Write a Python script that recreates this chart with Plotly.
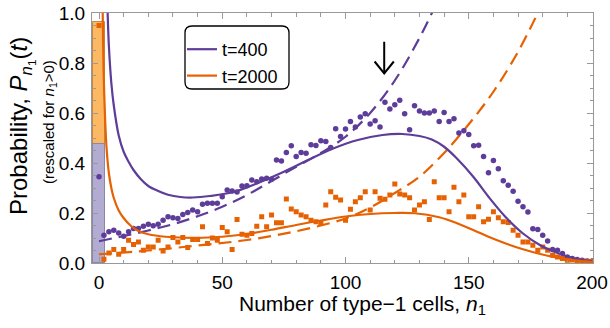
import plotly.graph_objects as go

# ---------------- data ----------------
n_points = list(range(0, 201, 2))

sim_t400 = [0.345, 0.111, 0.125, 0.131, 0.120, 0.107, 0.125, 0.138, 0.138, 0.147,
            0.155, 0.149, 0.155, 0.171, 0.185, 0.181, 0.178, 0.194, 0.202, 0.212,
            0.205, 0.235, 0.239, 0.239, 0.239, 0.265, 0.292, 0.288, 0.284, 0.308,
            0.309, 0.332, 0.325, 0.336, 0.339, 0.335, 0.412, 0.408, 0.442, 0.469,
            0.426, 0.442, 0.439, 0.473, 0.470, 0.489, 0.486, 0.462, 0.537, 0.506,
            0.536, 0.566, 0.544, 0.584, 0.597, 0.556, 0.569, 0.544, 0.643, 0.616,
            0.633, 0.651, 0.597, 0.533, 0.629, 0.608, 0.600, 0.600, 0.608, 0.566,
            0.602, 0.566, 0.577, 0.520, 0.529, 0.514, 0.469, 0.471, 0.426, 0.361,
            0.410, 0.377, 0.329, 0.311, 0.287, 0.247, 0.225, 0.204, 0.137, 0.134,
            0.111, 0.088, 0.054, 0.051, 0.038, 0.024, 0.018, 0.014, 0.011, 0.008,
            0.008]

sim_t2000 = [0.950, 0.015, 0.040, 0.054, 0.035, 0.054, 0.091, 0.074, 0.084, 0.051,
             0.064, 0.064, 0.091, 0.048, 0.064, 0.102, 0.084, 0.102, 0.062, 0.094,
             0.094, 0.145, 0.078, 0.100, 0.091, 0.142, 0.125, 0.054, 0.174, 0.115,
             0.111, 0.118, 0.147, 0.185, 0.145, 0.192, 0.161, 0.161, 0.256, 0.216,
             0.205, 0.192, 0.185, 0.171, 0.165, 0.158, 0.232, 0.285, 0.263, 0.252,
             0.171, 0.215, 0.245, 0.261, 0.285, 0.212, 0.285, 0.259, 0.255, 0.272,
             0.316, 0.276, 0.272, 0.261, 0.212, 0.232, 0.245, 0.174, 0.325, 0.261,
             0.261, 0.205, 0.303, 0.245, 0.272, 0.185, 0.185, 0.225, 0.165, 0.175,
             0.205, 0.181, 0.165, 0.162, 0.131, 0.111, 0.084, 0.084, 0.071, 0.051,
             0.064, 0.051, 0.031, 0.024, 0.018, 0.011, 0.012, 0.010, 0.008, 0.007,
             0.006]

# theory (solid) curves
theory_t400_n = [2.5, 3, 3.5, 4, 5, 6, 8, 10, 12, 14, 17, 20, 24, 28, 33, 38, 45, 55,
                 65, 75, 85, 95, 105, 115, 123, 130, 135, 140, 145, 152, 158, 165,
                 172, 179, 186, 193, 200]
theory_t400_v = [1.6, 1.2, 1.0, 0.87, 0.72, 0.63, 0.51, 0.445, 0.405, 0.372, 0.335,
                 0.308, 0.288, 0.273, 0.264, 0.262, 0.268, 0.285, 0.322, 0.365, 0.413,
                 0.458, 0.492, 0.512, 0.516, 0.508, 0.494, 0.465, 0.420, 0.343, 0.265,
                 0.183, 0.118, 0.071, 0.040, 0.018, 0.008]

theory_t2000_n = [1, 1.5, 2, 3, 4, 5, 6, 8, 10, 13, 16, 20, 27, 35, 42, 50, 60, 70, 80,
                  90, 100, 110, 120, 128, 138, 145, 152, 158, 165, 172, 179, 186, 193,
                  200]
theory_t2000_v = [1.4, 1.0, 0.72, 0.47, 0.36, 0.30, 0.26, 0.21, 0.18, 0.148, 0.128,
                  0.115, 0.105, 0.101, 0.101, 0.105, 0.116, 0.133, 0.152, 0.170, 0.186,
                  0.196, 0.200, 0.199, 0.183, 0.160, 0.131, 0.105, 0.078, 0.055, 0.036,
                  0.021, 0.011, 0.005]

# approximation (dashed) curves
approx_t400_n = [0, 10, 20, 30, 40, 50, 60, 70, 80, 90, 100, 110, 120, 130, 136]
approx_t400_v = [0.087, 0.108, 0.130, 0.155, 0.187, 0.225, 0.272, 0.328, 0.385, 0.440,
                 0.505, 0.600, 0.730, 0.900, 1.02]

approx_t2000_n = [0, 20, 40, 60, 80, 100, 110, 120, 130, 140, 150, 160, 170, 178]
approx_t2000_v = [0.035, 0.050, 0.070, 0.092, 0.127, 0.178, 0.222, 0.280, 0.345, 0.440,
                  0.555, 0.685, 0.845, 1.0]

# probability mass at n1 = 0 (bars)
bar_n = [0]
bar_t400 = [0.475]
bar_t2000 = [0.963]

arrow_n = 115.7
arrow_top, arrow_tip = 0.885, 0.758

PURPLE = "#5e3c99"
ORANGE = "#e66101"
FONT = "Liberation Sans, Arial, sans-serif"

fig = go.Figure()

fig.add_trace(go.Bar(x=bar_n, y=bar_t2000, width=4.5, marker=dict(color="#fdb863",
                     line=dict(color="#c08a45", width=1)), showlegend=False))
fig.add_trace(go.Bar(x=bar_n, y=bar_t400, width=4.5, marker=dict(color="#b2abd2",
                     line=dict(color="#8a86a6", width=1)), showlegend=False))

fig.add_trace(go.Scatter(x=approx_t400_n, y=approx_t400_v, mode="lines", line_shape="spline",
                         line=dict(color=PURPLE, width=2.2, dash="13px,7px"), showlegend=False))
fig.add_trace(go.Scatter(x=approx_t2000_n, y=approx_t2000_v, mode="lines", line_shape="spline",
                         line=dict(color=ORANGE, width=2.2, dash="13px,7px"), showlegend=False))

fig.add_trace(go.Scatter(x=n_points, y=sim_t400, mode="markers",
                         marker=dict(color=PURPLE, size=5.5, symbol="circle"), showlegend=False))
fig.add_trace(go.Scatter(x=n_points, y=sim_t2000, mode="markers",
                         marker=dict(color=ORANGE, size=5, symbol="square"), showlegend=False))

fig.add_trace(go.Scatter(x=theory_t400_n, y=theory_t400_v, mode="lines", line_shape="spline",
                         line=dict(color=PURPLE, width=2.2), name="t=400"))
fig.add_trace(go.Scatter(x=theory_t2000_n, y=theory_t2000_v, mode="lines", line_shape="spline",
                         line=dict(color=ORANGE, width=2.2), name="t=2000"))

# geometry helpers (pixel -> paper)
L, R, T, B, W, H = 92, 17, 13, 65, 610, 328
PW, PH = W - L - R, H - T - B
def px(xp):
    return (xp - L) / PW
def py(yp):
    return (H - B - yp) / PH

# rounded legend box
x0, x1, y0, y1 = px(185), px(289), py(89), py(26)
rx, ry = 7 / PW, 7 / PH
path = (f"M {x0+rx},{y1} L {x1-rx},{y1} Q {x1},{y1} {x1},{y1-ry} "
        f"L {x1},{y0+ry} Q {x1},{y0} {x1-rx},{y0} L {x0+rx},{y0} "
        f"Q {x0},{y0} {x0},{y0+ry} L {x0},{y1-ry} Q {x0},{y1} {x0+rx},{y1} Z")
shapes = [dict(type="path", xref="paper", yref="paper", path=path,
               line=dict(color="black", width=1.3), fillcolor="white", layer="above")]

# arrow
shapes.append(dict(type="line", xref="x", yref="y", x0=arrow_n, x1=arrow_n,
                   y0=arrow_top, y1=arrow_tip, line=dict(color="black", width=2)))
shapes.append(dict(type="path", xref="x", yref="y",
                   path=f"M {arrow_n-3.9},{arrow_tip+0.048} L {arrow_n},{arrow_tip} L {arrow_n+3.9},{arrow_tip+0.048}",
                   line=dict(color="black", width=2)))

annotations = [
    dict(text="Probability, <i>P</i><sub><i>n</i><sub>1</sub></sub>(<i>t</i>)",
         xref="paper", yref="paper", x=px(22), y=py(126), textangle=-90,
         showarrow=False, font=dict(size=24, color="black", family=FONT),
         xanchor="center", yanchor="middle"),
    dict(text="(rescaled for <i>n</i><sub>1</sub>&gt;0)",
         xref="paper", yref="paper", x=px(49), y=py(122), textangle=-90,
         showarrow=False, font=dict(size=15, color="black", family=FONT),
         xanchor="center", yanchor="middle"),
    dict(text="Number of type\u22121 cells, <i>n</i><sub>1</sub>",
         xref="paper", yref="paper", x=px(362), y=py(305),
         showarrow=False, font=dict(size=21, color="black", family=FONT),
         xanchor="center", yanchor="middle"),
]

fig.update_layout(
    width=W, height=H, margin=dict(l=L, r=R, t=T, b=B, autoexpand=False),
    paper_bgcolor="white", plot_bgcolor="white",
    barmode="overlay", bargap=0,
    font=dict(family=FONT, size=18, color="black"),
    shapes=shapes, annotations=annotations,
    legend=dict(x=px(182), y=py(31), xanchor="left", yanchor="top",
                bgcolor="rgba(0,0,0,0)", borderwidth=0,
                font=dict(size=18, family=FONT), tracegroupgap=0),
    xaxis=dict(range=[-2.84, 200.4], tickvals=[0, 50, 100, 150, 200], automargin=False,
               showgrid=False, zeroline=False, showline=True, linecolor="#999",
               mirror="allticks", ticks="inside", ticklen=6, tickcolor="#999",
               tickfont=dict(size=19), ticklabelstandoff=2,
               minor=dict(dtick=10, ticks="inside", ticklen=3.5, tickcolor="#999",
                          showgrid=False)),
    yaxis=dict(range=[0, 1], tickvals=[0, 0.2, 0.4, 0.6, 0.8, 1.0], tickformat=".1f",
               automargin=False,
               showgrid=False, zeroline=False, showline=True, linecolor="#999",
               mirror="allticks", ticks="inside", ticklen=6, tickcolor="#999",
               tickfont=dict(size=19), ticklabelstandoff=2,
               minor=dict(dtick=0.05, ticks="inside", ticklen=3.5, tickcolor="#999",
                          showgrid=False)),
)

fig.write_html("out.html", config={"displayModeBar": False},
               post_script="document.body.style.margin='0';")
